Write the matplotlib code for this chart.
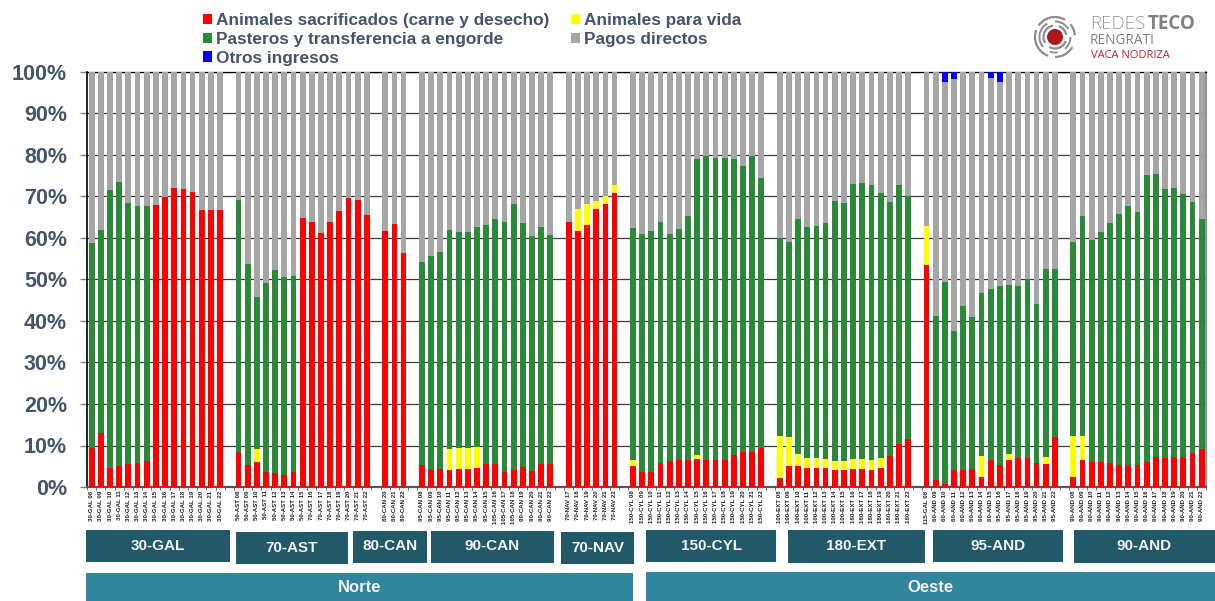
import matplotlib
matplotlib.use("Agg")
import matplotlib.pyplot as plt
import numpy as np
from matplotlib.patches import Arc, Circle, Rectangle

plt.rcParams["font.family"] = ["Liberation Sans", "DejaVu Sans"]

years = ["08", "09", "10", "11", "12", "13", "14", "15", "16", "17", "18", "19", "20", "21", "22"]

gal30_labels = [f"30-GAL {y}" for y in years]
ast70_labels = [f"50-AST {y}" for y in years[:8]] + [f"70-AST {y}" for y in years[8:]]
can80_labels = [f"80-CAN {y}" for y in years[12:]]
can90_labels = [f"95-CAN {y}" for y in years[:8]] + [f"105-CAN {y}" for y in years[8:11]] + [f"90-CAN {y}" for y in years[11:]]
nav70_labels = [f"70-NAV {y}" for y in years[9:]]
cyl150_labels = [f"150-CYL {y}" for y in years]
ext180_labels = [f"100-EXT {y}" for y in years[:8]] + [f"180-EXT {y}" for y in years[8:]]
and95_labels = ["115-GAL 08"] + [f"60-AND {y}" for y in years[1:8]] + [f"95-AND {y}" for y in years[8:]]
and90_labels = [f"90-AND {y}" for y in years]

group_names = ["30-GAL", "70-AST", "80-CAN", "90-CAN", "70-NAV", "150-CYL", "180-EXT", "95-AND", "90-AND"]
region_names = ["Norte", "Oeste"]
y_ticks = [0, 10, 20, 30, 40, 50, 60, 70, 80, 90, 100]

# one list per group, percent of income
sacrificados = [
    [9.4, 12.9, 4.6, 5.1, 5.6, 5.7, 6.3, 68.0, 69.9, 72.0, 71.7, 71.2, 66.8, 66.7, 66.7],
    [8.4, 5.4, 6.0, 3.5, 3.4, 2.9, 3.6, 64.7, 63.8, 61.1, 63.8, 66.4, 69.6, 69.2, 65.5],
    [61.7, 63.3, 56.4],
    [5.2, 4.1, 4.3, 4.0, 4.3, 4.3, 4.5, 5.5, 5.6, 3.6, 4.1, 4.7, 3.9, 5.6, 5.5],
    [63.8, 61.8, 63.2, 67.0, 68.1, 70.8],
    [5.1, 3.6, 3.6, 5.8, 6.3, 6.6, 6.5, 6.7, 6.5, 6.5, 6.4, 7.6, 8.4, 8.4, 9.4],
    [2.1, 5.1, 5.1, 4.5, 4.5, 4.5, 4.0, 4.0, 4.3, 4.4, 4.2, 4.5, 7.5, 10.4, 11.6],
    [53.5, 1.8, 0.8, 4.2, 4.2, 4.4, 2.4, 6.5, 5.3, 6.5, 7.0, 7.0, 5.9, 5.6, 12.1],
    [2.4, 6.5, 6.0, 6.0, 5.7, 5.3, 5.4, 5.3, 6.0, 7.2, 7.1, 7.2, 7.2, 8.2, 9.2],
]
para_vida = [
    [0] * 15,
    [0, 0, 3.1] + [0] * 12,
    [0, 0, 0],
    [0, 0, 0, 5.2, 5.1, 5.1, 5.1] + [0] * 8,
    [0, 5.2, 5.0, 2.0, 1.9, 2.0],
    [1.5, 0, 0, 0, 0, 0, 0, 0.9] + [0] * 7,
    [10.3, 6.9, 2.9, 2.4, 2.5, 2.3, 2.3, 2.3, 2.4, 2.3, 2.2, 2.4, 0, 0, 0],
    [9.3, 0, 0, 0, 0, 0, 5.0, 0, 0, 1.5, 0, 0, 0, 1.6, 0],
    [9.8, 5.7] + [0] * 13,
]
pasteros = [
    [49.4, 49.1, 67.0, 68.3, 62.9, 62.0, 61.4] + [0] * 8,
    [60.7, 48.3, 36.8, 45.7, 48.8, 47.6, 47.2] + [0] * 8,
    [0, 0, 0],
    [49.0, 51.6, 52.3, 52.8, 52.0, 52.0, 53.0, 57.6, 58.9, 60.2, 64.2, 58.9, 56.6, 57.0, 55.2],
    [0] * 6,
    [55.8, 57.3, 58.2, 58.0, 54.6, 55.6, 58.7, 71.4, 73.2, 72.7, 72.8, 71.5, 68.9, 71.3, 65.0],
    [47.7, 47.0, 56.5, 55.7, 56.0, 56.7, 62.5, 62.1, 66.2, 66.5, 66.3, 64.0, 61.2, 62.3, 58.4],
    [0, 39.5, 48.7, 33.4, 39.4, 36.5, 39.3, 41.2, 43.2, 40.7, 41.4, 43.0, 38.3, 45.4, 40.4],
    [46.9, 53.0, 53.6, 55.5, 57.8, 60.6, 62.2, 61.0, 69.3, 68.3, 64.7, 64.9, 63.3, 60.4, 55.4],
]
otros = [
    [0, 0.1] + [0] * 13,
    [0.1, 0, 0.1] + [0] * 12,
    [0, 0, 0],
    [0] * 15,
    [0] * 6,
    [0] * 15,
    [0] * 15,
    [0.1, 0, 2.4, 1.7, 0, 0, 0, 1.5, 2.3, 0, 0, 0, 0, 0, 0],
    [0] * 15,
]
all_labels = [gal30_labels, ast70_labels, can80_labels, can90_labels, nav70_labels,
              cyl150_labels, ext180_labels, and95_labels, and90_labels]

W, H = 1215, 601
TEXT = "#44546A"
fig = plt.figure(figsize=(W / 100, H / 100), dpi=100, facecolor="white")
ax = fig.add_axes([87.1 / W, 1 - 487 / H, (1206.3 - 87.1) / W, (487 - 72) / H])

# a blank slot between groups
x, labels, red, yellow, green, blue = [], [], [], [], [], []
pos = 0
for i in range(len(group_names)):
    x += list(range(pos, pos + len(sacrificados[i])))
    pos = x[-1] + 2
    labels += all_labels[i]
    red += sacrificados[i]
    yellow += para_vida[i]
    green += pasteros[i]
    blue += otros[i]
x = np.array(x)
red, yellow, green, blue = map(np.array, (red, yellow, green, blue))
grey = 100 - red - yellow - green - blue

bw = 0.63
b_red = ax.bar(x, red, bw, color="#FF0000", zorder=3)
b_yellow = ax.bar(x, yellow, bw, bottom=red, color="#FFFF00", zorder=3)
b_green = ax.bar(x, green, bw, bottom=red + yellow, color="#2B8A37", zorder=3)
b_grey = ax.bar(x, grey, bw, bottom=red + yellow + green, color="#A6A6A6", zorder=3)
b_blue = ax.bar(x, blue, bw, bottom=red + yellow + green + grey, color="#0000FF", zorder=3)

ax.set_xlim(-0.5, x[-1] + 0.5)
ax.set_ylim(0, 100)
ax.set_yticks(y_ticks)
ax.set_yticklabels([f"{v}%" for v in y_ticks], fontsize=15.5, fontweight="bold", color=TEXT)
ax.tick_params(axis="y", length=5, width=1, color="#808080", pad=9.5)
ax.grid(axis="y", color="#3A3A3A", lw=0.9, zorder=1)
ax.set_axisbelow(True)

ax.set_xticks(x)
ax.set_xticklabels(labels, rotation=90, fontsize=4.4, fontweight="bold", color="#222222")
ax.tick_params(axis="x", length=0, pad=2.5)
ax.set_xticks(np.arange(-0.5, x[-1] + 1), minor=True)
ax.tick_params(axis="x", which="minor", length=2, width=0.6, color="#555555")

ax.spines["left"].set_color("black")
ax.spines["left"].set_linewidth(1.2)
ax.spines["top"].set_color("black")
ax.spines["top"].set_linewidth(0.9)
ax.spines["right"].set_color("#808080")
ax.spines["right"].set_linewidth(1.2)
ax.spines["bottom"].set_color("#555555")
ax.spines["bottom"].set_linewidth(1.6)

leg = fig.legend(
    [b_red, b_green, b_blue, b_yellow, b_grey],
    ["Animales sacrificados (carne y desecho)", "Pasteros y transferencia a engorde", "Otros ingresos",
     "Animales para vida", "Pagos directos"],
    ncol=2, loc="upper left", bbox_to_anchor=(198.5 / W, 1 - 8.5 / H), bbox_transform=fig.transFigure,
    frameon=False, borderpad=0.25, borderaxespad=0, labelspacing=0.23,
    handlelength=0.54, handleheight=0.54, handletextpad=0.24, columnspacing=1.22, labelcolor=TEXT,
    prop={"weight": "bold", "size": 12.4},
)

# overlay in image pixels for the boxes and the logo
ov = fig.add_axes([0, 0, 1, 1], zorder=5)
ov.set_xlim(0, W)
ov.set_ylim(H, 0)
ov.axis("off")

group_boxes = [(86, 230, 530, 562), (236, 348, 532, 564), (353, 427, 531, 563), (431, 554, 531, 563),
               (561, 634, 532, 564), (646, 776, 530, 562), (788, 925, 530, 563), (933, 1063, 530, 562),
               (1074, 1215, 530, 563)]
for name, (x0, x1, y0, y1) in zip(group_names, group_boxes):
    ov.add_patch(Rectangle((x0, y0), x1 - x0, y1 - y0, color="#215968", lw=0))
    ov.text((x0 + x1) / 2, (y0 + y1) / 2 - 0.5, name, color="#F2F2F2", fontsize=11, fontweight="bold",
            ha="center", va="center")

region_boxes = [(86, 633, 573, 601), (646, 1215, 572, 601)]
for name, (x0, x1, y0, y1) in zip(region_names, region_boxes):
    ov.add_patch(Rectangle((x0, y0), x1 - x0, y1 - y0, color="#31859C", lw=0))
    ov.text((x0 + x1) / 2, (y0 + y1) / 2 + 1, name, color="#F2F2F2", fontsize=12, fontweight="bold",
            ha="center", va="center")

# logo
cx, cy = 1055, 37
ov.add_patch(Circle((cx, cy), 8, color="#B0161E", lw=0))
rings = [(11.5, 1.6, [(20, 120), (150, 260), (290, 350)]),
         (15.5, 1.4, [(0, 50), (80, 110), (140, 240), (270, 330)]),
         (20.0, 1.6, [(30, 90), (110, 200), (215, 300), (320, 355)])]
for r, lw, spans in rings:
    for a0, a1 in spans:
        ov.add_patch(Arc((cx, cy), 2 * r, 2 * r, theta1=a0, theta2=a1, color="#8C8C8C", lw=lw))
ov.text(1090, 24, "REDES", fontsize=13.5, family="Open Sans", fontweight="light", color="#9A9A9A", va="center")
ov.text(1148, 24, "TECO", fontsize=13.5, family="Open Sans", fontweight="bold", color="#808080", va="center")
ov.text(1090, 41, "RENGRATI", fontsize=9.8, family="Open Sans", color="#808080", va="center")
ov.text(1091, 55.5, "VACA NODRIZA", fontsize=8, family="Open Sans", color="#C0202F", va="center")

fig.savefig("out.png", dpi=100)
